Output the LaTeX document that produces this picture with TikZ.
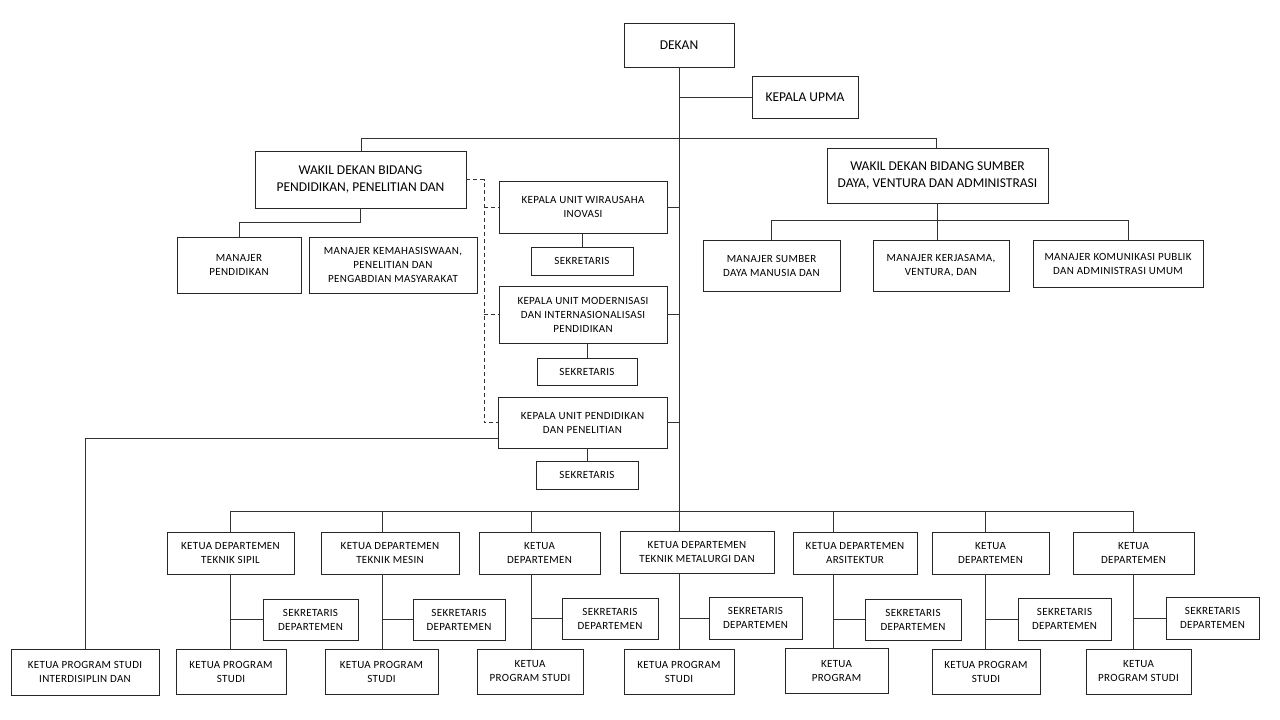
\documentclass[tikz,border=0pt]{standalone}
\usepackage{fontspec}
\setmainfont{Carlito}
\newfontfamily\unitfont[LetterSpace=3]{Carlito}
\usetikzlibrary{calc}

\tikzset{
	unit/.style={draw=black!85, line width=0.8pt, align=center, inner sep=1pt, font=\unitfont\fontsize{11}{14}\selectfont},
	bigunit/.style={unit, font=\normalfont\fontsize{13.5}{17}\selectfont},
	link/.style={draw=black!80, line width=0.8pt},
	dlink/.style={link, dash pattern=on 4pt off 3pt},
}

\begin{document}
\begin{tikzpicture}[x=1pt, y=-1pt]
		\useasboundingbox (0,0) rectangle (1280,720);
		% pimpinan
		\node[bigunit, minimum width=110, minimum height=44] (dekan) at (679,45) {DEKAN};
		\node[bigunit, minimum width=106, minimum height=42] (upma) at (805,97) {KEPALA UPMA};
		\node[bigunit, minimum width=211, minimum height=57] (wdl) at (360.5,179.5) {WAKIL DEKAN BIDANG\\PENDIDIKAN, PENELITIAN DAN};
		\node[bigunit, minimum width=221, minimum height=55] (wdr) at (937.5,175.5) {WAKIL DEKAN BIDANG SUMBER\\DAYA, VENTURA DAN ADMINISTRASI};
		% manajer
		\node[unit, minimum width=124, minimum height=56] (mp) at (239,265) {MANAJER\\PENDIDIKAN};
		\node[unit, minimum width=168, minimum height=56] (mk) at (393,265) {MANAJER KEMAHASISWAAN,\\PENELITIAN DAN\\PENGABDIAN MASYARAKAT};
		\node[unit, minimum width=137, minimum height=51] (msdm) at (771.5,265.5) {MANAJER SUMBER\\DAYA MANUSIA DAN};
		\node[unit, minimum width=136, minimum height=51] (mkv) at (941,265.5) {MANAJER KERJASAMA,\\VENTURA, DAN};
		\node[unit, minimum width=170, minimum height=47] (mkp) at (1118,263.5) {MANAJER KOMUNIKASI PUBLIK\\DAN ADMINISTRASI UMUM};
		% unit
		\node[unit, minimum width=168, minimum height=52] (u1) at (583,207) {KEPALA UNIT WIRAUSAHA\\INOVASI};
		\node[unit, minimum width=102, minimum height=28] (s1) at (582,261) {SEKRETARIS};
		\node[unit, minimum width=168, minimum height=57] (u2) at (583,314.5) {KEPALA UNIT MODERNISASI\\DAN INTERNASIONALISASI\\PENDIDIKAN};
		\node[unit, minimum width=100, minimum height=27] (s2) at (587,371.5) {SEKRETARIS};
		\node[unit, minimum width=169, minimum height=51] (u3) at (582.5,422.5) {KEPALA UNIT PENDIDIKAN\\DAN PENELITIAN};
		\node[unit, minimum width=102, minimum height=28] (s3) at (587,475) {SEKRETARIS};
		% departemen
		\node[unit, minimum width=127, minimum height=42] (d1) at (230.5,553) {KETUA DEPARTEMEN\\TEKNIK SIPIL};
		\node[unit, minimum width=138, minimum height=42] (d2) at (390,553) {KETUA DEPARTEMEN\\TEKNIK MESIN};
		\node[unit, minimum width=121, minimum height=42] (d3) at (539.5,553) {KETUA\\DEPARTEMEN};
		\node[unit, minimum width=154, minimum height=42] (d4) at (697,552) {KETUA DEPARTEMEN\\TEKNIK METALURGI DAN};
		\node[unit, minimum width=124, minimum height=42] (d5) at (855,553) {KETUA DEPARTEMEN\\ARSITEKTUR};
		\node[unit, minimum width=117, minimum height=42] (d6) at (990.5,553) {KETUA\\DEPARTEMEN};
		\node[unit, minimum width=121, minimum height=42] (d7) at (1133.5,553) {KETUA\\DEPARTEMEN};
		% sekretaris departemen
		\node[unit, minimum width=95, minimum height=41] (sd1) at (310.5,619.5) {SEKRETARIS\\DEPARTEMEN};
		\node[unit, minimum width=92, minimum height=41] (sd2) at (459,619.5) {SEKRETARIS\\DEPARTEMEN};
		\node[unit, minimum width=96, minimum height=41] (sd3) at (610,618.5) {SEKRETARIS\\DEPARTEMEN};
		\node[unit, minimum width=93, minimum height=42] (sd4) at (755.5,618) {SEKRETARIS\\DEPARTEMEN};
		\node[unit, minimum width=96, minimum height=41] (sd5) at (913,619.5) {SEKRETARIS\\DEPARTEMEN};
		\node[unit, minimum width=93, minimum height=42] (sd6) at (1064.5,619) {SEKRETARIS\\DEPARTEMEN};
		\node[unit, minimum width=93, minimum height=42] (sd7) at (1212.5,618) {SEKRETARIS\\DEPARTEMEN};
		% program studi
		\node[unit, minimum width=148, minimum height=46] (ipd) at (85,672) {KETUA PROGRAM STUDI\\INTERDISIPLIN DAN};
		\node[unit, minimum width=110, minimum height=45] (pd1) at (231,671.5) {KETUA PROGRAM\\STUDI};
		\node[unit, minimum width=113, minimum height=45] (pd2) at (381.5,671.5) {KETUA PROGRAM\\STUDI};
		\node[unit, minimum width=106, minimum height=45] (pd3) at (530,671.5) {KETUA\\PROGRAM STUDI};
		\node[unit, minimum width=110, minimum height=45] (pd4) at (679,671.5) {KETUA PROGRAM\\STUDI};
		\node[unit, minimum width=103, minimum height=45] (pd5) at (836.5,671) {KETUA\\PROGRAM};
		\node[unit, minimum width=108, minimum height=45] (pd6) at (986,671.5) {KETUA PROGRAM\\STUDI};
		\node[unit, minimum width=105, minimum height=45] (pd7) at (1138.5,671.5) {KETUA\\PROGRAM STUDI};

		% titik bantu
		\coordinate (tbl) at (361,138);
		\coordinate (tbr) at (936,138);
		\coordinate (mbl) at (771.5,220);
		\coordinate (mbr) at (1128,220);
		\coordinate (dk) at (484,0);
		\coordinate (v1) at (230.5,511);
		\coordinate (v2) at (382,511);
		\coordinate (v3) at (531,511);
		\coordinate (v4) at (679,511);
		\coordinate (v5) at (833,511);
		\coordinate (v6) at (985,511);
		\coordinate (v7) at (1133.5,511);

		% garis komando
		\draw[link] (dekan.south) -- (v4);
		\draw[link] (dekan.south |- upma.west) -- (upma.west);
		\draw[link] (tbl) -- (tbr);
		\draw[link] (tbl) -- (tbl |- wdl.north);
		\draw[link] (tbr) -- (tbr |- wdr.north);
		\draw[link] (wdl.south) -- ++(0,14) -| (mp.north);
		\draw[link] (wdr.south) -- (wdr.south |- mkv.north);
		\draw[link] (mbl) -- (mbr);
		\draw[link] (mbl) -- (msdm.north);
		\draw[link] (mbr) -- (mbr |- mkp.north);
		\draw[link] (u1.east) -- (u1.east -| v4);
		\draw[link] (u2.east) -- (u2.east -| v4);
		\draw[link] (u3.east) -- (u3.east -| v4);
		\draw[link] (s1.north) -- (s1.north |- u1.south);
		\draw[link] (s2.north) -- (s2.north |- u2.south);
		\draw[link] (s3.north) -- (s3.north |- u3.south);
		\draw[link] ($(u3.south west)+(0,-10)$) -| (ipd.north);
		% garis koordinasi
		\draw[dlink] (wdl.east) -| (dk |- u3.west) -- (u3.west);
		\draw[dlink] (dk |- u1.west) -- (u1.west);
		\draw[dlink] (dk |- u2.west) -- (u2.west);
		% departemen
		\draw[link] (v1) -- (v7);
		\foreach \i in {1,...,7}{
			\draw[link] (v\i) -- (v\i |- d\i.north);
			\draw[link] (v\i |- d\i.south) -- (v\i |- pd\i.north);
			\draw[link] (v\i |- sd\i.west) -- (sd\i.west);
		}
\end{tikzpicture}
\end{document}
